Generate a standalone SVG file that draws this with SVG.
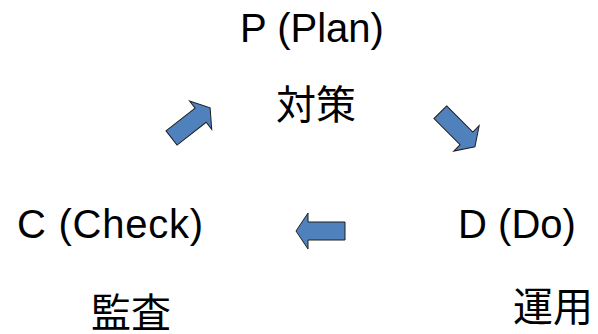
<svg xmlns="http://www.w3.org/2000/svg" width="598" height="334" viewBox="0 0 598 334">
  <style>
    .lat { font-family: "Liberation Sans", Arial, sans-serif; font-size: 40px; fill: #000; text-anchor: middle; }
    .cjk { font-family: "Liberation Sans", "Noto Sans CJK JP", sans-serif; font-size: 40px; fill: #000; text-anchor: middle; }
    .arrow { fill: #4f81bd; stroke: #1f1f1f; stroke-width: 1; stroke-linejoin: miter; }
  </style>
  <defs>
    <!-- block arrow pointing right, tail centre at origin -->
    <path id="blk" d="M0,-9 L37,-9 L37,-18 L49,0 L37,18 L37,9 L0,9 Z"/>
  </defs>
  <rect width="598" height="334" fill="#fff"/>

  <g id="plan">
    <text class="lat" x="312" y="42">P (Plan)</text>
    <text class="cjk" x="316" y="119">対策</text>
  </g>
  <g id="do">
    <text class="lat" x="517" y="238">D (Do)</text>
    <text class="cjk" x="553" y="321">運用</text>
  </g>
  <g id="check">
    <text class="lat" x="110" y="238" textLength="186" lengthAdjust="spacing">C (Check)</text>
    <text class="cjk" x="131" y="327">監査</text>
  </g>

  <g id="connectors">
    <use href="#blk" class="arrow" transform="translate(171.5,138) rotate(-38)"/>
    <use href="#blk" class="arrow" transform="translate(440.3,112.2) rotate(45)"/>
    <use href="#blk" class="arrow" transform="translate(345,231) rotate(180)"/>
  </g>
</svg>
